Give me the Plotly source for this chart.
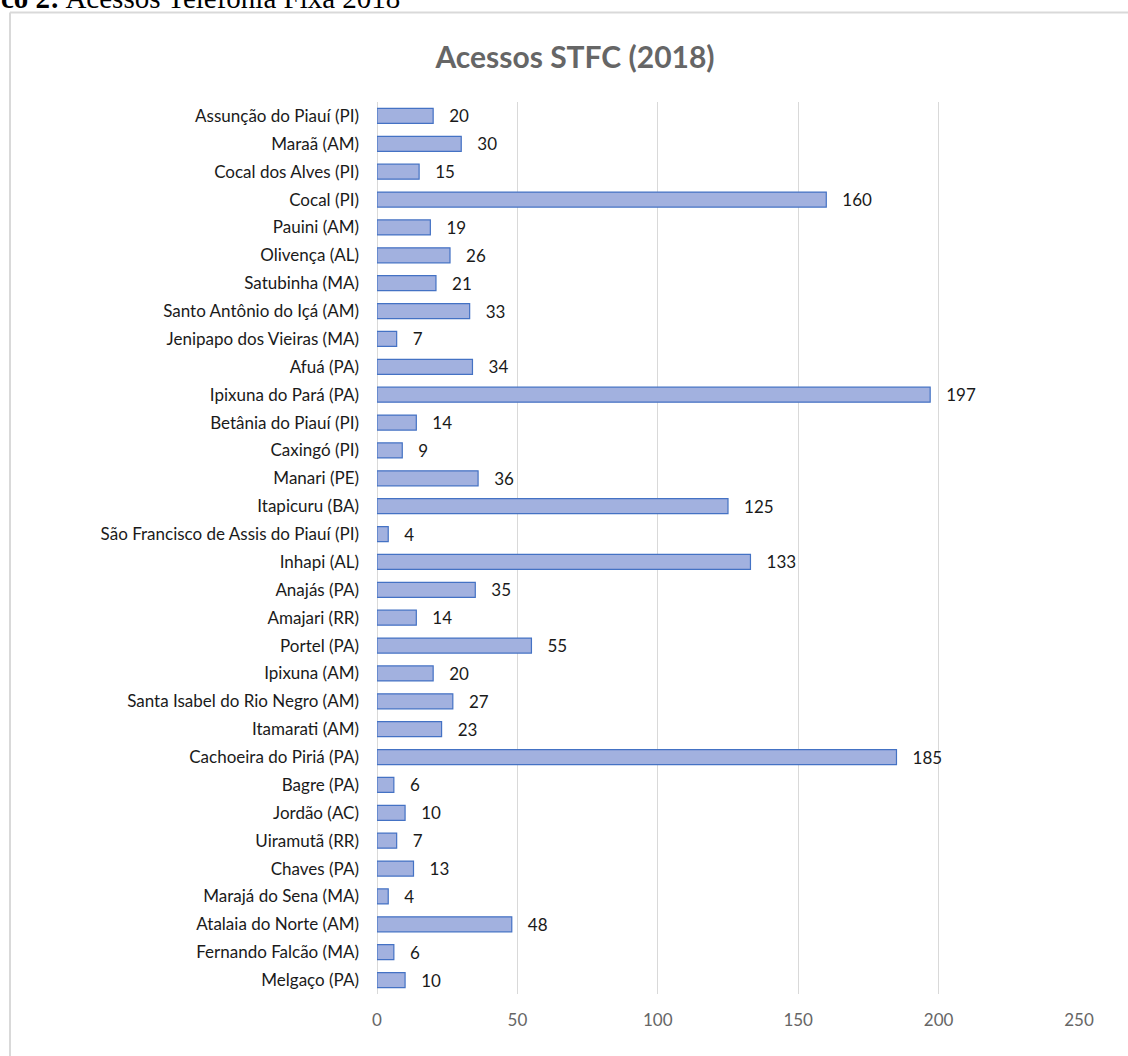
import plotly.graph_objects as go

municipios = [
    "Assunção do Piauí (PI)", "Maraã (AM)", "Cocal dos Alves (PI)", "Cocal (PI)",
    "Pauini (AM)", "Olivença (AL)", "Satubinha (MA)", "Santo Antônio do Içá (AM)",
    "Jenipapo dos Vieiras (MA)", "Afuá (PA)", "Ipixuna do Pará (PA)", "Betânia do Piauí (PI)",
    "Caxingó (PI)", "Manari (PE)", "Itapicuru (BA)", "São Francisco de Assis do Piauí (PI)",
    "Inhapi (AL)", "Anajás (PA)", "Amajari (RR)", "Portel (PA)", "Ipixuna (AM)",
    "Santa Isabel do Rio Negro (AM)", "Itamarati (AM)", "Cachoeira do Piriá (PA)",
    "Bagre (PA)", "Jordão (AC)", "Uiramutã (RR)", "Chaves (PA)", "Marajá do Sena (MA)",
    "Atalaia do Norte (AM)", "Fernando Falcão (MA)", "Melgaço (PA)",
]
acessos = [20, 30, 15, 160, 19, 26, 21, 33, 7, 34, 197, 14, 9, 36, 125, 4,
           133, 35, 14, 55, 20, 27, 23, 185, 6, 10, 7, 13, 4, 48, 6, 10]
x_ticks = [0, 50, 100, 150, 200, 250]

W, H = 1128, 1056
L, R, T, B = 377, 49, 102, 62
pw, ph = W - L - R, H - T - B

def px(xp):
    return (xp - L) / pw

def py(yp):
    return 1 - (yp - T) / ph

fig = go.Figure(go.Bar(
    y=municipios, x=acessos, orientation="h",
    marker=dict(color="rgb(162,177,223)", line=dict(color="rgb(68,114,196)", width=1.2)),
    text=[f"   {v}" for v in acessos], textposition="outside",
    textfont=dict(family="Lato, sans-serif", size=17, color="#1a1a1a"),
    constraintext="none", cliponaxis=False, width=0.54,
))

fig.update_layout(
    width=W, height=H,
    margin=dict(l=L, r=R, t=T, b=B),
    paper_bgcolor="white", plot_bgcolor="white",
    showlegend=False,
    title=dict(text="<b>Acessos STFC (2018)</b>", x=575 / W, xanchor="center",
               y=1 - 57 / H, yanchor="middle",
               font=dict(family="Lato, sans-serif", size=30, color="#666666")),
    xaxis=dict(range=[0, 250], tickvals=x_ticks, showgrid=True, gridcolor="#D9D9D9",
               gridwidth=1, zeroline=True, zerolinecolor="#D9D9D9", zerolinewidth=1,
               showline=False, ticks="", ticklabelstandoff=14,
               tickfont=dict(family="Lato, sans-serif", size=17, color="#666666")),
    yaxis=dict(autorange="reversed", showgrid=False, showline=False, ticks="",
               ticklabelstandoff=17,
               tickfont=dict(family="Lato, sans-serif", size=17, color="#1a1a1a")),
    bargap=0.46,
    shapes=[
        dict(type="line", xref="paper", yref="paper", x0=px(10), x1=px(1140),
             y0=py(12.5), y1=py(12.5), line=dict(color="#D9D9D9", width=2)),
        dict(type="line", xref="paper", yref="paper", x0=px(10), x1=px(10),
             y0=py(12.5), y1=py(1060), line=dict(color="#D9D9D9", width=2)),
    ],
    annotations=[
        dict(text="<b>co 2:</b> Acessos Telefonia Fixa 2018", xref="paper", yref="paper",
             x=px(-1), y=py(16), xanchor="left", yanchor="bottom", showarrow=False,
             font=dict(family="Liberation Serif, serif", size=29, color="black")),
    ],
)

fig.write_html("out.html", config={"displayModeBar": False},
               post_script="document.body.style.margin='0';document.body.style.overflow='hidden';")
